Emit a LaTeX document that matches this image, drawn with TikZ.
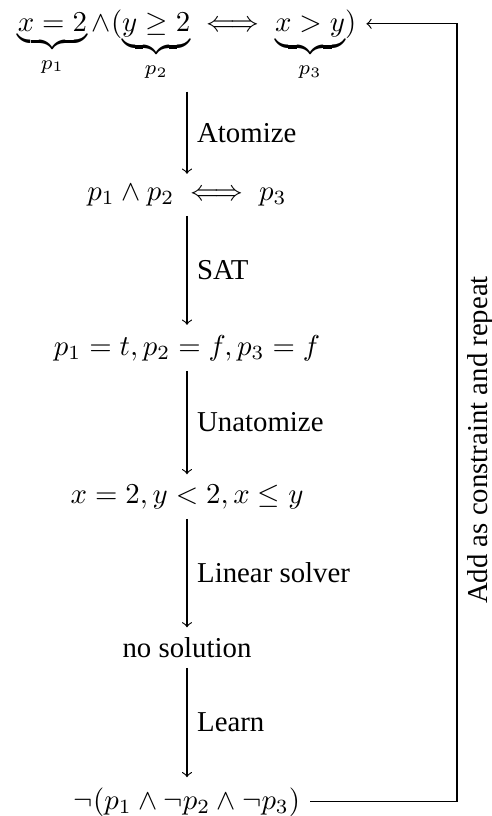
\documentclass[tikz,border=0pt]{standalone}
\usepackage{amsmath}
\usepackage[no-math]{fontspec}
\setmainfont{Liberation Serif}
\usetikzlibrary{calc}
\begin{document}
\begin{tikzpicture}[x=0.3472pt,y=-0.3472pt,
  stmt/.style={anchor=base, inner sep=3.333pt},
  flow/.style={->},
  lbl/.style={midway, right, inner sep=3.333pt}]
\useasboundingbox (0,0) rectangle (492,816);
\node[stmt] (n1) at (187,31) {$\underbrace{x=2}_{p_1}\wedge(\underbrace{y\geq 2}_{p_2}\iff\underbrace{x>y}_{p_3})$};
\node[stmt] (n2) at (187,200) {$p_1\wedge p_2\iff p_3$};
\node[stmt] (n3) at (187,355) {$p_1=t,p_2=f,p_3=f$};
\node[stmt] (n4) at (187,503) {$x=2,y<2,x\leq y$};
\node[stmt] (n5) at (187,657.5) {no solution};
\node[stmt] (n6) at (187,809) {$\neg(p_1\wedge\neg p_2\wedge\neg p_3)$};
\draw[flow] (n1.south) -- node[lbl] {Atomize} (n2.north);
\draw[flow] (n2.south) -- node[lbl] {SAT} (n3.north);
\draw[flow] (n3.south) -- node[lbl] {Unatomize} (n4.north);
\draw[flow] (n4.south) -- node[lbl] {Linear solver} (n5.north);
\draw[flow] (n5.south) -- node[lbl] {Learn} (n6.north);
\coordinate (rx) at (457,400);
\coordinate (topin) at ([yshift=2.5pt]n1.base east);
\draw[flow] (n6.east) -| (rx) |- (topin);
\node[rotate=90, anchor=north, inner sep=3.333pt] (side) at (457,440) {Add as constraint and repeat};
\end{tikzpicture}
\end{document}
